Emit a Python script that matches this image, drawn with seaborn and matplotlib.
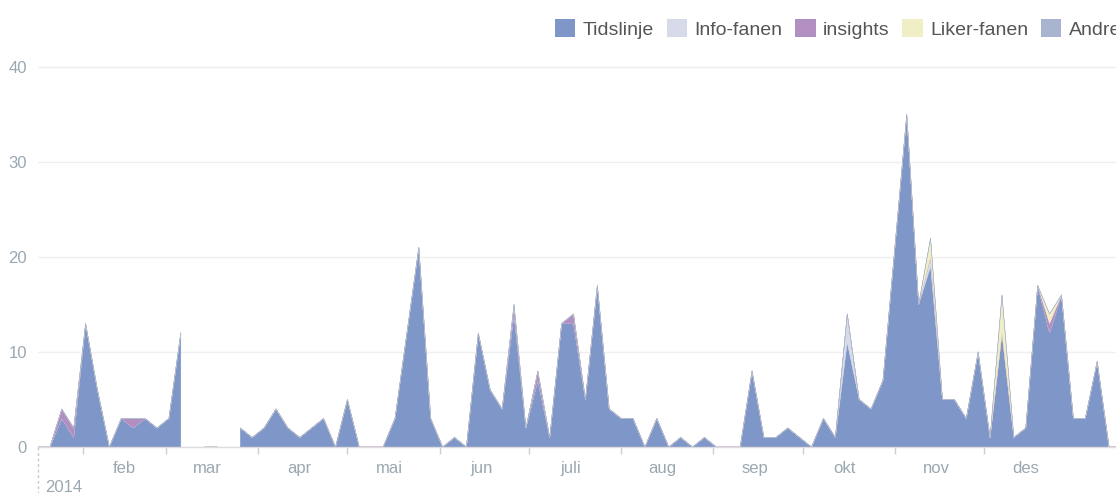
import matplotlib.pyplot as plt
import matplotlib.dates as mdates
import matplotlib.transforms as mtransforms
import numpy as np
import pandas as pd
import seaborn as sns
from matplotlib.patches import Patch

nan = np.nan

# data: ett punkt hver 4. dag fra 17. januar 2014
start = "2014-01-17"
tidslinje = [0, 0, 3, 1, 13, 6, 0, 3, 2, 3, 2, 3, 12, nan, 0, 0, nan,
             2, 1, 2, 4, 2, 1, 2, 3, 0, 5, 0, 0, 0, 3, 12, 21, 3, 0, 1, 0,
             12, 6, 4, 14, 2, 7, 1, 13, 13, 5, 17, 4, 3, 3, 0, 3, 0, 1, 0,
             1, 0, 0, 0, 8, 1, 1, 2, 1, 0, 3, 1, 11, 5, 4, 7, 21, 35, 15,
             19, 5, 5, 3, 10, 1, 12, 1, 2, 17, 12, 16, 3, 3, 9, 0, 0]
info_fanen = [0] * len(tidslinje)
insights = [0] * len(tidslinje)
liker_fanen = [0] * len(tidslinje)
andre = [0] * len(tidslinje)
info_fanen[68] = 3
info_fanen[75] = 1
for i in [2, 3, 8, 40, 42, 45, 85]:
    insights[i] = 1
liker_fanen[75] = 2
liker_fanen[81] = 4
liker_fanen[85] = 1

serier = ["Tidslinje", "Info-fanen", "insights", "Liker-fanen", "Andre"]
farger = ["#7f96c8", "#d6dae9", "#b18fc1", "#f0eec4", "#a8b4d0"]
maaneder = ["feb", "mar", "apr", "mai", "jun", "juli", "aug", "sep", "okt", "nov", "des"]

datoer = pd.date_range(start, periods=len(tidslinje), freq="4D")
df = pd.DataFrame({
    "Tidslinje": tidslinje,
    "Info-fanen": info_fanen,
    "insights": insights,
    "Liker-fanen": liker_fanen,
    "Andre": andre,
}, index=datoer, dtype=float)
# hull i dataene
df.loc[df["Tidslinje"].isna(), :] = nan

sns.set_theme(style="white")
plt.rcParams["font.family"] = ["Liberation Sans", "DejaVu Sans"]

W, H = 1116, 493
fig = plt.figure(figsize=(W / 100, H / 100), dpi=100)
ax = fig.add_axes([38 / W, 46 / H, 1083 / W, 41 * 9.5 / H])

bunn = np.zeros(len(df))
for navn, farge in zip(serier, farger):
    topp = bunn + df[navn].values
    ax.fill_between(df.index, bunn, topp, color=farge, lw=0.3, edgecolor=farge)
    bunn = topp

# tynn linje der totalen er null
null = np.where(bunn == 0, 0.0, nan)
ax.plot(df.index, null, color="#d9c6dc", lw=1.2, zorder=3)

ax.set_ylim(0, 41)
ax.set_xlim(pd.Timestamp(start), pd.Timestamp(start) + pd.Timedelta(days=364))
ax.set_yticks([0, 10, 20, 30, 40])
ax.yaxis.grid(True, color="#efefef", lw=1)
ax.set_axisbelow(True)

ax.set_xticks(pd.date_range("2014-02-01", "2014-12-01", freq="MS"))
ax.set_xticklabels([])
midt = pd.to_datetime([f"2014-{m:02d}-15" for m in range(2, 13)])
ax.set_xticks(midt, labels=maaneder, minor=True)
ax.tick_params(axis="x", which="major", length=5, color="#cfcfcf", width=1, direction="out", bottom=True)
ax.tick_params(axis="x", which="minor", length=0, pad=10, labelsize=12, labelcolor="#9aa8b2")
ax.tick_params(axis="y", length=0, pad=8, labelsize=12, labelcolor="#9aa8b2")

for side in ["top", "right", "left"]:
    ax.spines[side].set_visible(False)
ax.spines["bottom"].set_color("#dddddd")
ax.spines["bottom"].set_linewidth(1)

# stiplet linje ved start og årstall
trans = mtransforms.blended_transform_factory(ax.transData, ax.transAxes)
x0 = mdates.date2num(pd.Timestamp(start))
ax.plot([x0, x0], [0, -0.13], transform=trans, clip_on=False,
        color="#c8c8c8", lw=1, ls=(0, (2, 2)))
fig.text(45 / W, 1 - 487 / H, "2014", ha="left", va="center", fontsize=12, color="#9aa8b2")

handles = [Patch(facecolor=f, edgecolor="none") for f in farger]
fig.legend(handles, serier, loc="center left", bbox_to_anchor=(555 / W, 1 - 29 / H),
           ncol=5, frameon=False, fontsize=14, handlelength=1.05, handleheight=1.0,
           handletextpad=0.38, columnspacing=0.65, borderpad=0, borderaxespad=0,
           labelcolor="#555555")

fig.savefig("out.png", dpi=100)
